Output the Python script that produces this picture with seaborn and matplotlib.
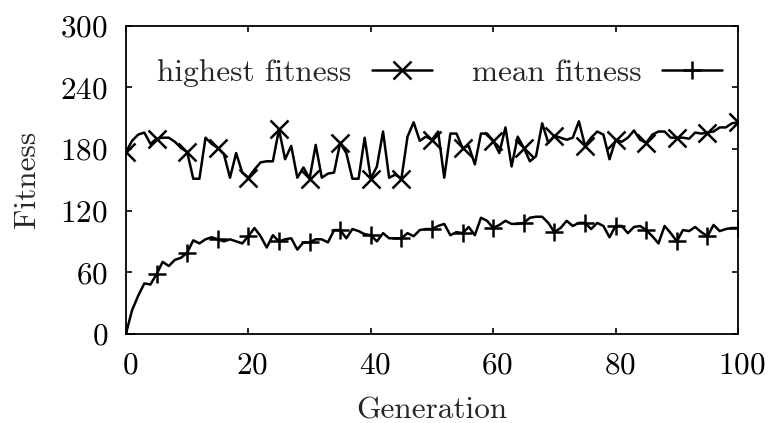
import numpy as np
import pandas as pd
import matplotlib
matplotlib.use("Agg")
import matplotlib.pyplot as plt
from matplotlib.transforms import ScaledTranslation
import seaborn as sns

generations = list(range(101))

highest_fitness = [
    177, 188, 194, 196, 185, 190, 191, 191, 187, 181,
    177, 151, 151, 191, 185, 181, 175, 152, 176, 157,
    152, 160, 167, 168, 168, 199, 170, 183, 152, 162,
    151, 184, 152, 156, 157, 186, 176, 151, 151, 191,
    151, 163, 197, 152, 155, 151, 192, 206, 188, 192,
    189, 197, 152, 195, 195, 181, 183, 165, 195, 195,
    188, 176, 201, 163, 192, 181, 168, 173, 205, 186,
    193, 191, 189, 191, 207, 183, 191, 197, 194, 170,
    189, 187, 191, 198, 189, 186, 194, 197, 197, 191,
    191, 191, 190, 196, 195, 196, 197, 201, 201, 205,
    206,
]

mean_fitness = [
    0, 23, 37, 49, 48, 58, 70, 66, 72, 74,
    79, 91, 88, 92, 94, 92, 90, 92, 90, 88,
    95, 103, 95, 84, 96, 90, 92, 93, 82, 89,
    89, 92, 92, 89, 101, 101, 93, 102, 100, 97,
    96, 90, 98, 93, 93, 93, 98, 95, 101, 102,
    102, 105, 107, 96, 99, 98, 104, 96, 113, 110,
    103, 106, 110, 107, 107, 108, 113, 114, 114, 108,
    99, 103, 110, 105, 108, 108, 102, 108, 105, 94,
    105, 105, 98, 104, 105, 101, 95, 88, 105, 98,
    90, 101, 100, 104, 99, 95, 106, 100, 102, 103,
    103,
]

x_ticks = [0, 20, 40, 60, 80, 100]
y_ticks = [0, 60, 120, 180, 240, 300]

FS = 22.5

sns.set_theme(style="ticks")
plt.rcParams["font.family"] = ["cmr10"]
plt.rcParams["mathtext.fontset"] = "cm"
plt.rcParams["axes.formatter.use_mathtext"] = True

fig = plt.figure(figsize=(7.68, 4.23), dpi=100)
ax = fig.add_axes([0.164, 0.211, 0.797, 0.728])

df = pd.DataFrame({"gen": generations,
                   "best": highest_fitness,
                   "mean": mean_fitness})

line_kw = dict(color="black", linewidth=1.8, markevery=5,
               markeredgecolor="black", markeredgewidth=1.8, ax=ax)
sns.lineplot(data=df, x="gen", y="best", marker="x", markersize=13.5,
             label="highest fitness", **line_kw)
sns.lineplot(data=df, x="gen", y="mean", marker="+", markersize=13.5,
             label="mean fitness", **line_kw)

ax.set_xlim(0, 100)
ax.set_ylim(0, 300)
ax.set_xticks(x_ticks)
ax.set_yticks(y_ticks)
ax.tick_params(direction="in", length=4.5, width=1.2, labelsize=FS,
               top=True, right=True, colors="black")
ax.tick_params(axis="x", pad=13)
ax.tick_params(axis="y", pad=13)
for side in ax.spines.values():
    side.set_linewidth(1.3)
    side.set_color("black")

# nudge the x tick labels slightly to the right
shift = ScaledTranslation(4 / 100, 0, fig.dpi_scale_trans)
for lab in ax.get_xticklabels():
    lab.set_transform(lab.get_transform() + shift)

ax.set_xlabel("Generation", fontsize=FS, labelpad=12)
ax.set_ylabel("Fitness", fontsize=FS, labelpad=14)

handles, labels = ax.get_legend_handles_labels()
ax.legend(handles, labels, ncol=2, loc="center right", frameon=False,
          markerfirst=False, numpoints=1, fontsize=FS, handlelength=1.92,
          handletextpad=0.65, columnspacing=1.3, borderpad=0,
          borderaxespad=0, bbox_to_anchor=(0.974, 0.848))

fig.savefig("out.png", dpi=100)
